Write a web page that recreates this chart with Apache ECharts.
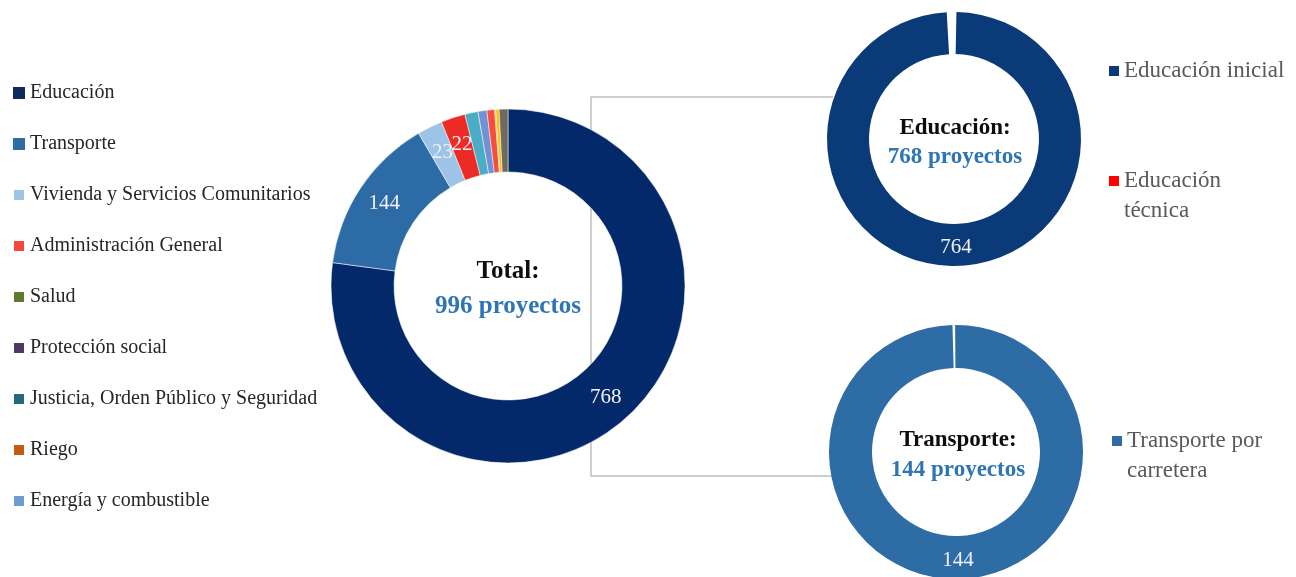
<!DOCTYPE html>
<html>
<head>
<meta charset="utf-8">
<script src="https://cdn.jsdelivr.net/npm/echarts@6/dist/echarts.min.js"></script>
<style>
  html, body { margin: 0; padding: 0; background: #fff; }
  #chart { width: 1296px; height: 577px; }
</style>
</head>
<body>
<div id="chart"></div>
<script>
  // datos del gráfico principal (total de proyectos por función)
  var sectores = ['Educación', 'Transporte', 'Vivienda y Servicios Comunitarios', 'Administración General',
    'Salud', 'Protección social', 'Justicia, Orden Público y Seguridad', 'Riego', 'Energía y combustible', 'Otros'];
  var proyectos = [768, 144, 23, 22, 12, 8, 7, 1, 3, 8];
  var coloresSector = ['#03296A', '#2C6BA6', '#9DC3E6', '#EC2A26', '#4BACC6', '#7190D6', '#F64E3C', '#F39200', '#FFC000', '#6E6A60'];
  // colores que muestra la leyenda de la izquierda
  var coloresLeyenda = ['#0D2B5E', '#2E6DA8', '#9DC3E6', '#F4473B', '#5E7B2C', '#4C3A64', '#236B7A', '#C55A11', '#6F9BD1'];

  // detalle de educación
  var subEducacion = ['Educación inicial', 'Educación técnica'];
  var proyEducacion = [764, 4];
  var colEducacion = ['#0A3A77', '#FF0000'];

  // detalle de transporte
  var subTransporte = ['Transporte por carretera'];
  var proyTransporte = [144];
  var colTransporte = ['#2E6CA5'];

  var fuente = '"Liberation Serif", "DejaVu Serif", serif';

  function armar(nombres, valores, colores) {
    return nombres.map(function (n, i) {
      return { name: n, value: valores[i], itemStyle: { color: colores[i] } };
    });
  }

  var chart = echarts.init(document.getElementById('chart'));

  var etiqueta = {
    show: true,
    position: 'inside',
    color: '#F2F2F2',
    fontFamily: fuente,
    fontSize: 21,
    formatter: function (p) { return p.value >= 20 ? p.value : ''; }
  };

  // leyenda de la derecha, el texto partido en dos lineas
  function leyendaDerecha(nombre, texto, x, y) {
    return {
      orient: 'vertical', left: x, top: y, padding: 0,
      itemWidth: 10, itemHeight: 10, icon: 'rect', selectedMode: false,
      formatter: function () { return texto; },
      textStyle: { fontFamily: fuente, fontSize: 23, color: '#595959', lineHeight: 30 },
      data: [nombre]
    };
  }

  chart.setOption({
    animation: false,
    legend: [
      {
        orient: 'vertical', left: 12, top: 83, padding: 0,
        itemWidth: 12, itemHeight: 12, itemGap: 31,
        icon: 'rect', selectedMode: false,
        textStyle: { fontFamily: fuente, fontSize: 20, color: '#262626', lineHeight: 20 },
        data: sectores.slice(0, 9).map(function (n, i) {
          return { name: n, itemStyle: { color: coloresLeyenda[i] } };
        })
      },
      leyendaDerecha(subEducacion[0], 'Educación inicial', 1109, 56),
      leyendaDerecha(subEducacion[1], '\nEducación\ntécnica', 1109, 136),
      leyendaDerecha(subTransporte[0], '\nTransporte por\ncarretera', 1112, 396)
    ],
    graphic: [
      // conector entre los gráficos
      {
        type: 'polyline', z: 0,
        shape: { points: [[833, 97], [591, 97], [591, 476], [832, 476]] },
        style: { stroke: '#BFBFBF', lineWidth: 1.5, fill: null }
      },
      { type: 'text', x: 508, y: 272, style: { text: 'Total:', align: 'center', verticalAlign: 'middle', fontFamily: fuente, fontSize: 25, fontWeight: 'bold', fill: '#0D0D0D' } },
      { type: 'text', x: 508, y: 307, style: { text: '996 proyectos', align: 'center', verticalAlign: 'middle', fontFamily: fuente, fontSize: 25, fontWeight: 'bold', fill: '#2E75B6' } },
      { type: 'text', x: 955, y: 128, style: { text: 'Educación:', align: 'center', verticalAlign: 'middle', fontFamily: fuente, fontSize: 23, fontWeight: 'bold', fill: '#0D0D0D' } },
      { type: 'text', x: 955, y: 157, style: { text: '768 proyectos', align: 'center', verticalAlign: 'middle', fontFamily: fuente, fontSize: 23, fontWeight: 'bold', fill: '#2E75B6' } },
      { type: 'text', x: 958, y: 440, style: { text: 'Transporte:', align: 'center', verticalAlign: 'middle', fontFamily: fuente, fontSize: 23, fontWeight: 'bold', fill: '#0D0D0D' } },
      { type: 'text', x: 958, y: 470, style: { text: '144 proyectos', align: 'center', verticalAlign: 'middle', fontFamily: fuente, fontSize: 23, fontWeight: 'bold', fill: '#2E75B6' } }
    ],
    series: [
      {
        name: 'Total', type: 'pie', z: 3,
        center: [508, 286], radius: [114, 177],
        startAngle: 90, clockwise: true,
        avoidLabelOverlap: false,
        labelLayout: { hideOverlap: false },
        itemStyle: { borderColor: '#fff', borderWidth: 0.5 },
        label: etiqueta, labelLine: { show: false },
        emphasis: { disabled: true },
        data: armar(sectores, proyectos, coloresSector)
      },
      {
        name: 'Educación', type: 'pie', z: 3,
        center: [954, 139], radius: [85, 127],
        startAngle: 90, padAngle: 2.2,
        label: etiqueta, labelLine: { show: false },
        emphasis: { disabled: true },
        data: armar(subEducacion, proyEducacion, colEducacion)
      },
      {
        name: 'Transporte', type: 'pie', z: 3,
        center: [956, 452], radius: [84, 127],
        startAngle: 91, padAngle: 1.2,
        label: etiqueta, labelLine: { show: false },
        emphasis: { disabled: true },
        data: armar(subTransporte, proyTransporte, colTransporte)
      }
    ]
  });
</script>
</body>
</html>
